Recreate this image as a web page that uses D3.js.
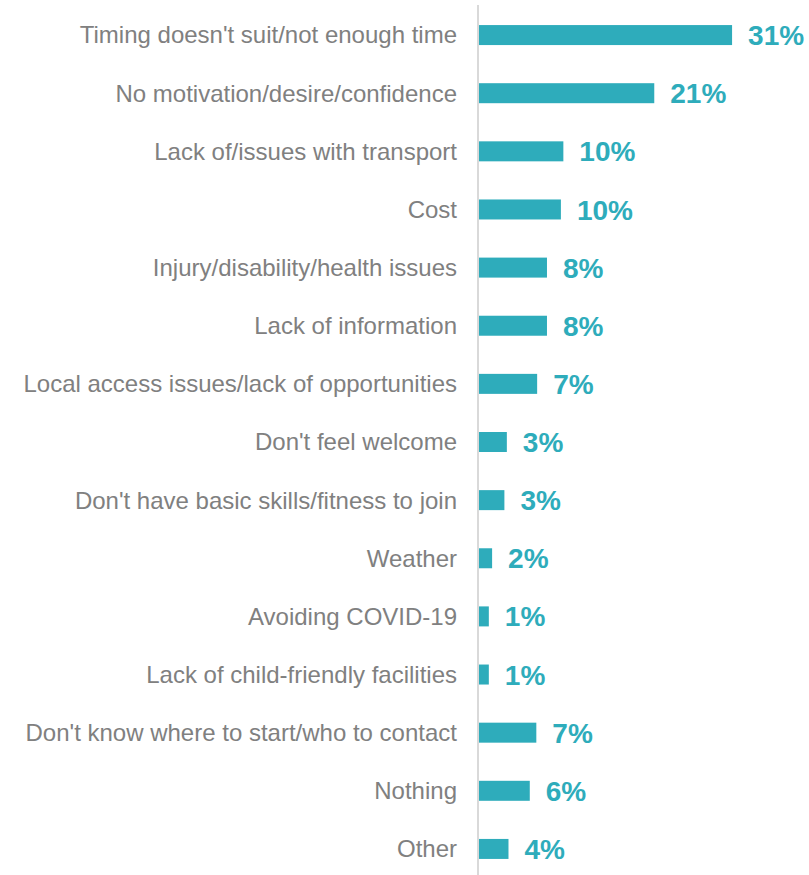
<!DOCTYPE html>
<html>
<head>
<meta charset="utf-8">
<script src="https://cdn.jsdelivr.net/npm/d3@7"></script>
<style>
  body { margin: 0; background: #fff; }
  svg { display: block; }
</style>
</head>
<body>
<div id="chart"></div>
<script>
var categories = [
  "Timing doesn't suit/not enough time",
  "No motivation/desire/confidence",
  "Lack of/issues with transport",
  "Cost",
  "Injury/disability/health issues",
  "Lack of information",
  "Local access issues/lack of opportunities",
  "Don't feel welcome",
  "Don't have basic skills/fitness to join",
  "Weather",
  "Avoiding COVID-19",
  "Lack of child-friendly facilities",
  "Don't know where to start/who to contact",
  "Nothing",
  "Other"
];
var values = [30.9, 21.4, 10.3, 10.0, 8.3, 8.3, 7.1, 3.4, 3.1, 1.6, 1.2, 1.2, 7.0, 6.2, 3.6];

var width = 809, height = 875;
var axisX = 479;
var barColor = "#2eacbb";

var data = categories.map(function(c, i) { return {name: c, value: values[i]}; });

var svg = d3.select("#chart").append("svg")
    .attr("width", width)
    .attr("height", height);

var x = d3.scaleLinear()
    .domain([0, 1])
    .range([axisX, axisX + 8.19]);

var y = d3.scaleBand()
    .domain(categories)
    .range([6, 878])
    .paddingInner(0.656)
    .paddingOuter(0.328);

svg.selectAll(".bar")
    .data(data)
  .enter().append("rect")
    .attr("class", "bar")
    .attr("x", x(0))
    .attr("y", function(d) { return y(d.name); })
    .attr("width", function(d) { return x(d.value) - x(0); })
    .attr("height", y.bandwidth())
    .attr("fill", barColor);

// axis line
svg.append("line")
    .attr("x1", axisX - 1).attr("x2", axisX - 1)
    .attr("y1", 5).attr("y2", height)
    .attr("stroke", "#d9d9d9")
    .attr("stroke-width", 2);

svg.selectAll(".cat")
    .data(data)
  .enter().append("text")
    .attr("class", "cat")
    .attr("x", 457)
    .attr("y", function(d) { return y(d.name) + y.bandwidth() / 2; })
    .attr("dy", "0.35em")
    .attr("text-anchor", "end")
    .attr("font-family", "Liberation Sans, Arial, sans-serif")
    .attr("font-size", "24px")
    .attr("fill", "#808080")
    .text(function(d) { return d.name; });

svg.selectAll(".val")
    .data(data)
  .enter().append("text")
    .attr("class", "val")
    .attr("x", function(d) { return x(d.value) + 16; })
    .attr("y", function(d) { return y(d.name) + y.bandwidth() / 2; })
    .attr("dy", "0.36em")
    .attr("font-family", "Liberation Sans, Arial, sans-serif")
    .attr("font-weight", "bold")
    .attr("font-size", "28px")
    .attr("fill", barColor)
    .text(function(d) { return Math.round(d.value) + "%"; });
</script>
</body>
</html>
